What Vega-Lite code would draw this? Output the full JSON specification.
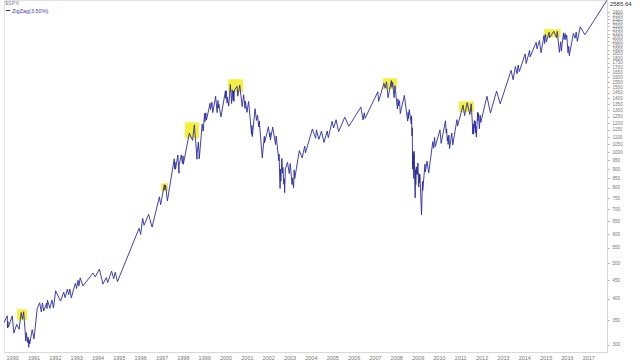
{
  "$schema": "https://vega.github.io/schema/vega-lite/v6.json",
  "width": 603,
  "height": 352,
  "autosize": {"type": "none"},
  "padding": {"left": 4, "top": 0, "right": 33, "bottom": 10},
  "background": "white",
  "config": {
    "view": {"stroke": "#e4e4e4"},
    "font": "Liberation Sans",
    "axis": {"labelFont": "Liberation Sans", "labelColor": "#666666", "grid": false, "title": null}
  },
  "datasets": {
    "zz": [
      {"d":"1989-08-14","v":344.7},{"d":"1989-10-09","v":359.8},{"d":"1989-10-13","v":333.6},{"d":"1989-10-20","v":347.2},
      {"d":"1989-10-27","v":335.1},{"d":"1990-01-02","v":359.7},{"d":"1990-01-30","v":323.0},{"d":"1990-03-20","v":341.0},
      {"d":"1990-04-30","v":330.8},{"d":"1990-06-04","v":367.4},{"d":"1990-06-26","v":352.3},{"d":"1990-07-16","v":369.0},
      {"d":"1990-08-23","v":307.1},{"d":"1990-08-30","v":324.0},{"d":"1990-09-24","v":304.6},{"d":"1990-10-01","v":314.9},
      {"d":"1990-10-11","v":295.5},{"d":"1990-10-18","v":310.0},{"d":"1990-10-29","v":301.9},{"d":"1990-12-10","v":330.0},
      {"d":"1991-01-09","v":311.5},{"d":"1991-03-06","v":376.7},{"d":"1991-04-17","v":390.5},{"d":"1991-05-15","v":368.6},
      {"d":"1991-06-03","v":389.8},{"d":"1991-06-25","v":370.9},{"d":"1991-08-15","v":389.9},{"d":"1991-08-19","v":376.5},
      {"d":"1991-08-28","v":396.6},{"d":"1991-10-09","v":377.0},{"d":"1991-11-13","v":397.4},{"d":"1991-12-09","v":377.7},
      {"d":"1992-01-15","v":420.8},{"d":"1992-04-08","v":394.5},{"d":"1992-06-01","v":417.3},{"d":"1992-06-25","v":403.1},
      {"d":"1992-08-03","v":425.1},{"d":"1992-08-24","v":410.7},{"d":"1992-09-14","v":425.3},{"d":"1992-10-09","v":402.7},
      {"d":"1992-12-18","v":441.3},{"d":"1993-01-08","v":426.9},{"d":"1993-02-01","v":449.0},{"d":"1993-02-16","v":433.9},
      {"d":"1993-03-10","v":456.3},{"d":"1993-04-26","v":433.5},{"d":"1993-10-15","v":470.0},{"d":"1993-11-23","v":459.0},
      {"d":"1994-02-02","v":481.6},{"d":"1994-04-04","v":438.9},{"d":"1994-05-31","v":457.0},{"d":"1994-06-24","v":442.8},
      {"d":"1994-08-30","v":476.1},{"d":"1994-10-05","v":453.5},{"d":"1994-10-31","v":472.4},{"d":"1994-12-08","v":445.5},
      {"d":"1995-12-13","v":621.7},{"d":"1996-01-10","v":598.5},{"d":"1996-02-12","v":661.5},{"d":"1996-03-08","v":633.5},
      {"d":"1996-05-24","v":678.5},{"d":"1996-07-23","v":626.7},{"d":"1996-11-25","v":757.0},{"d":"1996-12-16","v":720.9},
      {"d":"1997-02-18","v":816.3},{"d":"1997-02-27","v":790.8},{"d":"1997-03-11","v":813.7},{"d":"1997-04-11","v":737.7},
      {"d":"1997-08-06","v":960.3},{"d":"1997-08-15","v":900.8},{"d":"1997-08-20","v":939.4},{"d":"1997-08-29","v":899.5},
      {"d":"1997-10-07","v":983.1},{"d":"1997-10-27","v":877.0},{"d":"1997-10-28","v":921.9},{"d":"1997-12-05","v":983.8},
      {"d":"1997-12-24","v":932.7},{"d":"1998-01-05","v":977.1},{"d":"1998-01-09","v":927.7},{"d":"1998-04-21","v":1126.7},
      {"d":"1998-06-15","v":1077.0},{"d":"1998-07-17","v":1186.8},{"d":"1998-08-31","v":957.3},{"d":"1998-09-01","v":994.3},
      {"d":"1998-09-23","v":1066.1},{"d":"1998-10-08","v":959.4},{"d":"1998-11-27","v":1192.3},{"d":"1998-12-14","v":1141.2},
      {"d":"1999-01-08","v":1275.1},{"d":"1999-01-14","v":1212.2},{"d":"1999-01-29","v":1279.6},{"d":"1999-02-09","v":1223.6},
      {"d":"1999-04-12","v":1358.6},{"d":"1999-04-19","v":1306.2},{"d":"1999-05-13","v":1367.6},{"d":"1999-05-27","v":1281.4},
      {"d":"1999-07-16","v":1418.8},{"d":"1999-08-10","v":1281.4},{"d":"1999-08-25","v":1381.8},{"d":"1999-08-31","v":1320.4},
      {"d":"1999-09-09","v":1351.5},{"d":"1999-10-15","v":1247.4},{"d":"1999-12-31","v":1469.3},{"d":"2000-01-04","v":1399.4},
      {"d":"2000-01-14","v":1465.2},{"d":"2000-01-28","v":1360.2},{"d":"2000-02-02","v":1409.3},{"d":"2000-02-25","v":1333.4},
      {"d":"2000-03-24","v":1527.5},{"d":"2000-04-14","v":1356.6},{"d":"2000-04-25","v":1477.4},{"d":"2000-05-10","v":1383.1},
      {"d":"2000-05-16","v":1466.0},{"d":"2000-05-23","v":1373.9},{"d":"2000-06-02","v":1477.3},{"d":"2000-07-17","v":1510.5},
      {"d":"2000-07-28","v":1419.9},{"d":"2000-09-01","v":1520.8},{"d":"2000-10-12","v":1329.8},{"d":"2000-11-06","v":1432.2},
      {"d":"2000-11-30","v":1315.2},{"d":"2000-12-05","v":1376.5},{"d":"2001-01-02","v":1283.3},{"d":"2001-01-30","v":1373.7},
      {"d":"2001-03-22","v":1117.6},{"d":"2001-03-27","v":1182.2},{"d":"2001-04-04","v":1103.3},{"d":"2001-05-21","v":1312.8},
      {"d":"2001-06-14","v":1219.9},{"d":"2001-07-02","v":1262.0},{"d":"2001-07-24","v":1171.2},{"d":"2001-08-01","v":1215.9},
      {"d":"2001-09-21","v":965.8},{"d":"2001-10-26","v":1104.6},{"d":"2001-10-30","v":1059.8},{"d":"2002-01-04","v":1172.5},
      {"d":"2002-01-29","v":1100.6},{"d":"2002-01-31","v":1130.2},{"d":"2002-02-07","v":1080.2},{"d":"2002-03-19","v":1170.3},
      {"d":"2002-05-07","v":1049.5},{"d":"2002-05-17","v":1106.6},{"d":"2002-07-02","v":948.1},{"d":"2002-07-05","v":989.0},
      {"d":"2002-07-23","v":797.7},{"d":"2002-07-29","v":899.0},{"d":"2002-08-05","v":834.6},{"d":"2002-08-22","v":962.7},
      {"d":"2002-09-03","v":878.0},{"d":"2002-09-10","v":909.6},{"d":"2002-09-24","v":819.3},{"d":"2002-10-01","v":847.9},
      {"d":"2002-10-09","v":776.8},{"d":"2002-10-21","v":899.7},{"d":"2002-11-27","v":938.9},{"d":"2002-12-27","v":875.4},
      {"d":"2003-01-14","v":931.7},{"d":"2003-02-13","v":817.4},{"d":"2003-02-21","v":851.2},{"d":"2003-03-11","v":800.7},
      {"d":"2003-03-21","v":895.8},{"d":"2003-03-31","v":848.2},{"d":"2003-06-17","v":1010.7},{"d":"2003-08-05","v":965.5},
      {"d":"2003-09-18","v":1039.6},{"d":"2003-09-30","v":996.0},{"d":"2004-01-26","v":1155.4},{"d":"2004-03-24","v":1091.3},
      {"d":"2004-04-05","v":1150.6},{"d":"2004-05-17","v":1084.1},{"d":"2004-06-30","v":1140.8},{"d":"2004-08-12","v":1063.2},
      {"d":"2004-10-06","v":1142.1},{"d":"2004-10-25","v":1094.8},{"d":"2004-12-30","v":1213.5},{"d":"2005-01-24","v":1163.8},
      {"d":"2005-03-07","v":1225.3},{"d":"2005-04-20","v":1137.5},{"d":"2005-08-03","v":1245.0},{"d":"2005-10-13","v":1176.8},
      {"d":"2006-05-05","v":1325.8},{"d":"2006-06-13","v":1223.7},{"d":"2006-07-03","v":1280.2},{"d":"2006-07-18","v":1236.9},
      {"d":"2007-02-20","v":1459.7},{"d":"2007-03-05","v":1374.1},{"d":"2007-06-04","v":1539.2},{"d":"2007-06-26","v":1492.9},
      {"d":"2007-07-19","v":1553.1},{"d":"2007-08-15","v":1406.7},{"d":"2007-10-09","v":1565.2},{"d":"2007-10-19","v":1500.6},
      {"d":"2007-10-31","v":1549.4},{"d":"2007-11-26","v":1407.2},{"d":"2007-12-10","v":1516.0},{"d":"2008-01-22","v":1310.5},
      {"d":"2008-02-01","v":1395.4},{"d":"2008-02-07","v":1336.9},{"d":"2008-02-27","v":1380.0},{"d":"2008-03-10","v":1273.4},
      {"d":"2008-05-19","v":1426.6},{"d":"2008-07-15","v":1214.9},{"d":"2008-07-23","v":1282.2},{"d":"2008-07-28","v":1234.4},
      {"d":"2008-08-11","v":1305.3},{"d":"2008-09-15","v":1192.7},{"d":"2008-09-19","v":1255.1},{"d":"2008-09-29","v":1106.4},
      {"d":"2008-09-30","v":1166.4},{"d":"2008-10-10","v":899.2},{"d":"2008-10-13","v":1003.4},{"d":"2008-10-15","v":907.8},
      {"d":"2008-10-20","v":985.4},{"d":"2008-10-27","v":848.9},{"d":"2008-11-04","v":1005.8},{"d":"2008-11-20","v":752.4},
      {"d":"2008-11-28","v":896.2},{"d":"2008-12-01","v":816.2},{"d":"2008-12-08","v":909.7},{"d":"2008-12-11","v":873.6},
      {"d":"2008-12-16","v":913.2},{"d":"2008-12-29","v":869.4},{"d":"2009-01-06","v":934.7},{"d":"2009-01-20","v":805.2},
      {"d":"2009-01-28","v":874.1},{"d":"2009-02-02","v":825.4},{"d":"2009-02-09","v":869.9},{"d":"2009-03-09","v":676.5},
      {"d":"2009-03-26","v":832.9},{"d":"2009-03-30","v":787.5},{"d":"2009-05-08","v":929.2},{"d":"2009-05-13","v":883.9},
      {"d":"2009-06-12","v":946.2},{"d":"2009-07-10","v":879.1},{"d":"2009-09-18","v":1068.3},{"d":"2009-10-02","v":1025.2},
      {"d":"2009-10-19","v":1097.9},{"d":"2009-10-30","v":1036.2},{"d":"2010-01-19","v":1150.2},{"d":"2010-02-08","v":1056.7},
      {"d":"2010-04-23","v":1217.3},{"d":"2010-05-06","v":1128.2},{"d":"2010-05-13","v":1157.4},{"d":"2010-05-25","v":1074.0},
      {"d":"2010-06-03","v":1102.8},{"d":"2010-06-07","v":1050.5},{"d":"2010-06-21","v":1113.2},{"d":"2010-07-02","v":1022.6},
      {"d":"2010-08-09","v":1127.8},{"d":"2010-08-26","v":1047.2},{"d":"2010-11-05","v":1225.9},{"d":"2010-11-16","v":1178.3},
      {"d":"2011-02-18","v":1343.0},{"d":"2011-03-16","v":1256.9},{"d":"2011-04-29","v":1363.6},{"d":"2011-06-15","v":1265.4},
      {"d":"2011-07-07","v":1353.2},{"d":"2011-08-08","v":1119.5},{"d":"2011-08-09","v":1172.5},{"d":"2011-08-10","v":1120.8},
      {"d":"2011-08-16","v":1192.8},{"d":"2011-08-19","v":1123.5},{"d":"2011-08-31","v":1218.9},{"d":"2011-09-12","v":1162.3},
      {"d":"2011-09-16","v":1216.0},{"d":"2011-09-22","v":1129.6},{"d":"2011-09-27","v":1175.4},{"d":"2011-10-03","v":1099.2},
      {"d":"2011-10-27","v":1284.6},{"d":"2011-11-01","v":1218.3},{"d":"2011-11-08","v":1275.9},{"d":"2011-11-25","v":1158.7},
      {"d":"2011-12-07","v":1261.0},{"d":"2011-12-19","v":1205.4},{"d":"2012-04-02","v":1419.0},{"d":"2012-06-01","v":1278.0},
      {"d":"2012-09-14","v":1465.8},{"d":"2012-11-15","v":1353.3},{"d":"2013-05-21","v":1669.2},{"d":"2013-06-24","v":1573.1},
      {"d":"2013-08-02","v":1709.7},{"d":"2013-08-30","v":1633.0},{"d":"2013-09-18","v":1725.5},{"d":"2013-10-08","v":1655.5},
      {"d":"2014-01-15","v":1848.4},{"d":"2014-02-03","v":1741.9},{"d":"2014-04-02","v":1890.9},{"d":"2014-04-11","v":1815.7},
      {"d":"2014-07-24","v":1988.0},{"d":"2014-08-07","v":1909.6},{"d":"2014-09-18","v":2011.4},{"d":"2014-10-15","v":1862.5},
      {"d":"2014-12-05","v":2075.4},{"d":"2014-12-16","v":1972.7},{"d":"2014-12-29","v":2090.6},{"d":"2015-01-15","v":1992.7},
      {"d":"2015-03-02","v":2117.4},{"d":"2015-03-10","v":2044.2},{"d":"2015-05-21","v":2130.8},{"d":"2015-07-08","v":2046.7},
      {"d":"2015-07-20","v":2128.3},{"d":"2015-08-25","v":1867.6},{"d":"2015-09-16","v":1995.3},{"d":"2015-09-28","v":1881.8},
      {"d":"2015-11-03","v":2109.8},{"d":"2015-11-13","v":2023.0},{"d":"2015-12-01","v":2102.6},{"d":"2015-12-14","v":2021.9},
      {"d":"2015-12-29","v":2078.4},{"d":"2016-01-20","v":1859.3},{"d":"2016-02-01","v":1939.4},{"d":"2016-02-11","v":1829.1},
      {"d":"2016-04-20","v":2102.4},{"d":"2016-05-19","v":2040.0},{"d":"2016-06-08","v":2119.1},{"d":"2016-06-27","v":2000.5},
      {"d":"2016-08-15","v":2190.2},{"d":"2016-11-04","v":2085.2},{"d":"2017-11-16","v":2585.6}
    ],
    "boxes": [
      {"a":"1990-03-25","b":"1990-09-13","lo":350,"hi":375},
      {"a":"1996-12-24","b":"1997-04-22","lo":784,"hi":824},
      {"a":"1998-02-06","b":"1998-10-05","lo":1091,"hi":1206},
      {"a":"2000-02-14","b":"2000-10-27","lo":1455,"hi":1578},
      {"a":"2007-05-19","b":"2008-01-12","lo":1482,"hi":1588},
      {"a":"2010-12-10","b":"2011-08-22","lo":1284,"hi":1375},
      {"a":"2014-12-02","b":"2015-09-16","lo":2050,"hi":2158}
    ],
    "last": [{"d":"2017-11-16","v":2585.6,"t":"2585.64"}]
  },
  "layer": [
    {
      "data": {"name": "boxes"},
      "mark": {"type": "rect", "color": "#f6f03c", "opacity": 1},
      "encoding": {
        "x": {"field": "a", "type": "temporal"},
        "x2": {"field": "b"},
        "y": {"field": "lo", "type": "quantitative"},
        "y2": {"field": "hi"}
      }
    },
    {
      "data": {"name": "zz"},
      "mark": {"type": "line", "strokeWidth": 0.9, "clip": true},
      "encoding": {
        "x": {
          "field": "d", "type": "temporal",
          "scale": {"domain": ["1989-08-14", "2017-11-17"], "nice": false},
          "axis": {"format": "%Y", "tickCount": {"interval": "year", "step": 1}, "labelFontSize": 5.5, "ticks": false, "labelPadding": 3, "domainColor": "#d8d8d8", "labelFlush": false, "labelOverlap": false, "labelColor": "#777777"}
        },
        "y": {
          "field": "v", "type": "quantitative",
          "scale": {"type": "log", "domain": [287, 2590], "nice": false, "zero": false},
          "axis": {
            "orient": "right",
            "values": [300,350,400,450,500,550,600,650,700,750,800,850,900,950,1000,1050,1100,1150,1200,1250,1300,1350,1400,1450,1500,1550,1600,1650,1700,1750,1800,1850,1900,1950,2000,2050,2100,2150,2200,2250,2300,2350,2400],
            "format": "d", "labelFontSize": 4.6, "tickSize": 2, "tickColor": "#aaaaaa", "labelPadding": 3, "domainColor": "#d8d8d8", "labelOverlap": false, "labelFlush": false, "labelColor": "#777777",
            "encode": {"labels": {"update": {"dy": {"signal": "datum.value >= 2400 ? -1.2 : datum.value >= 2350 ? -0.4 : datum.value >= 2300 ? 0.3 : 0"}}}}
          }
        },
        "color": {
          "datum": "ZigZag(3.50%)",
          "scale": {"range": ["#2b2ba0"]},
          "legend": {"title": "$SPX", "orient": "top-left", "offset": 1, "padding": 0, "titleFontSize": 5.5, "titleFontWeight": "normal", "titleColor": "#888888", "titlePadding": 1, "labelFontSize": 5.5, "labelColor": "#4444aa", "symbolType": "stroke", "symbolSize": 20, "symbolStrokeWidth": 1, "labelOffset": 1}
        }
      }
    },
    {
      "data": {"name": "last"},
      "mark": {"type": "text", "align": "left", "baseline": "top", "dx": 3, "dy": 1, "fontSize": 6, "color": "#333333"},
      "encoding": {
        "x": {"field": "d", "type": "temporal"},
        "y": {"field": "v", "type": "quantitative"},
        "text": {"field": "t"}
      }
    }
  ]
}
